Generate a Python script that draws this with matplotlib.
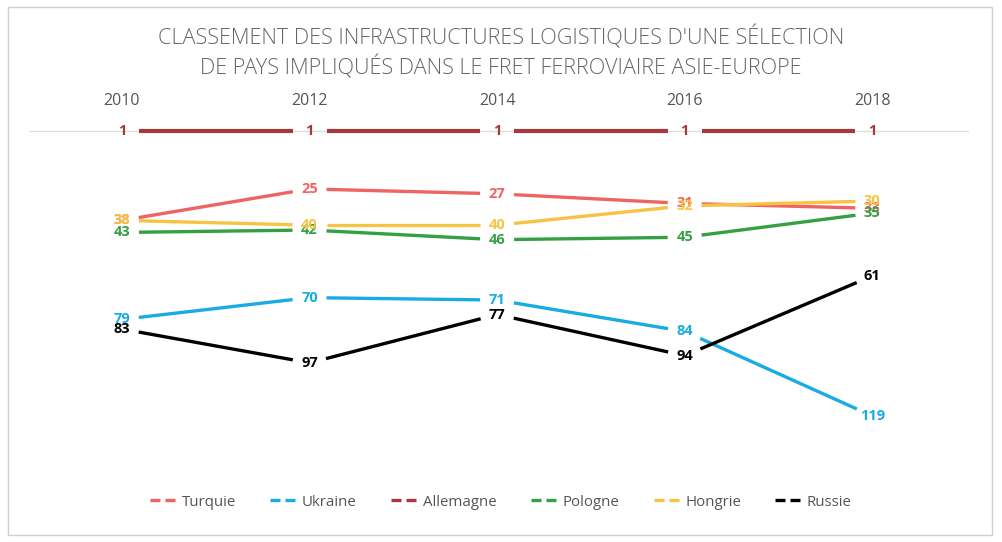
import matplotlib.pyplot as plt
from matplotlib.patches import Rectangle
import numpy as np

plt.rcParams['font.family'] = ['Open Sans', 'DejaVu Sans']

# Données
years = ['2010', '2012', '2014', '2016', '2018']
pays = ['Turquie', 'Ukraine', 'Allemagne', 'Pologne', 'Hongrie', 'Russie']
turquie = [38, 25, 27, 31, 33]
ukraine = [79, 70, 71, 84, 119]
allemagne = [1, 1, 1, 1, 1]
pologne = [43, 42, 46, 45, 35]
hongrie = [38, 40, 40, 32, 30]
russie = [83, 97, 77, 94, 61]

series = [turquie, ukraine, allemagne, pologne, hongrie, russie]
couleurs = ['#ee6363', '#1aabe3', '#a8383d', '#35a043', '#f7c343', '#000000']
epaisseurs = [2.4, 2.4, 3.0, 2.4, 2.4, 2.4]

W, H = 1002, 542
fig = plt.figure(figsize=(W / 100, H / 100), dpi=100)
fig.patches.append(Rectangle((8 / W, 7 / H), 984 / W, 528 / H, transform=fig.transFigure,
                             fill=False, edgecolor='#d0d0d0', linewidth=1))

# axes : rang 1 en haut (y=131 px)
ax = fig.add_axes([30 / W, (H - 470) / H, 938 / W, 339 / H])
ax.set_xlim(-0.49, 4.51)
ax.set_ylim(1 + 339 / 2.415, 1)
for s in ['left', 'right', 'bottom']:
    ax.spines[s].set_visible(False)
ax.spines['top'].set_color('#dddddd')
ax.spines['top'].set_linewidth(1)
ax.set_yticks([])
ax.xaxis.tick_top()
ax.set_xticks(range(len(years)))
ax.set_xticklabels(years, fontsize=11.5, color='#555555')
ax.tick_params(axis='x', length=0, pad=16)

x = np.arange(len(years))
gap = 17  # px autour des étiquettes
fig.canvas.draw()
for vals, col, nom, lw in zip(series, couleurs, pays, epaisseurs):
    pts = ax.transData.transform(np.column_stack([x, vals]))
    for i in range(len(pts) - 1):
        p0, p1 = pts[i], pts[i + 1]
        d = (p1 - p0) / np.hypot(*(p1 - p0))
        seg = ax.transData.inverted().transform([p0 + d * gap, p1 - d * gap])
        ax.plot(seg[:, 0], seg[:, 1], color=col, linewidth=lw,
                solid_capstyle='butt', clip_on=False, zorder=3)
    for xi, v in zip(x, vals):
        ax.text(xi, v, str(v), color=col, fontsize=10.5, fontweight='bold',
                ha='center', va='center', clip_on=False, zorder=4)
    ax.plot([], [], color=col, linewidth=2.4, linestyle=(0, (3, 1.5)), label=nom)

fig.text(0.5, (H - 37) / H, "CLASSEMENT DES INFRASTRUCTURES LOGISTIQUES D'UNE SÉLECTION",
         ha='center', va='center', fontsize=15.6, color='#666666', fontweight='light')
fig.text(0.5, (H - 68) / H, "DE PAYS IMPLIQUÉS DANS LE FRET FERROVIAIRE ASIE-EUROPE",
         ha='center', va='center', fontsize=15.6, color='#666666', fontweight='light')

leg = fig.legend(loc='center', bbox_to_anchor=(0.5, (H - 502) / H), ncol=6, frameon=False,
                 fontsize=10.8, handlelength=2.0, handletextpad=0.1, columnspacing=2.3)
for t in leg.get_texts():
    t.set_color('#555555')

fig.savefig('out.png', dpi=100)
